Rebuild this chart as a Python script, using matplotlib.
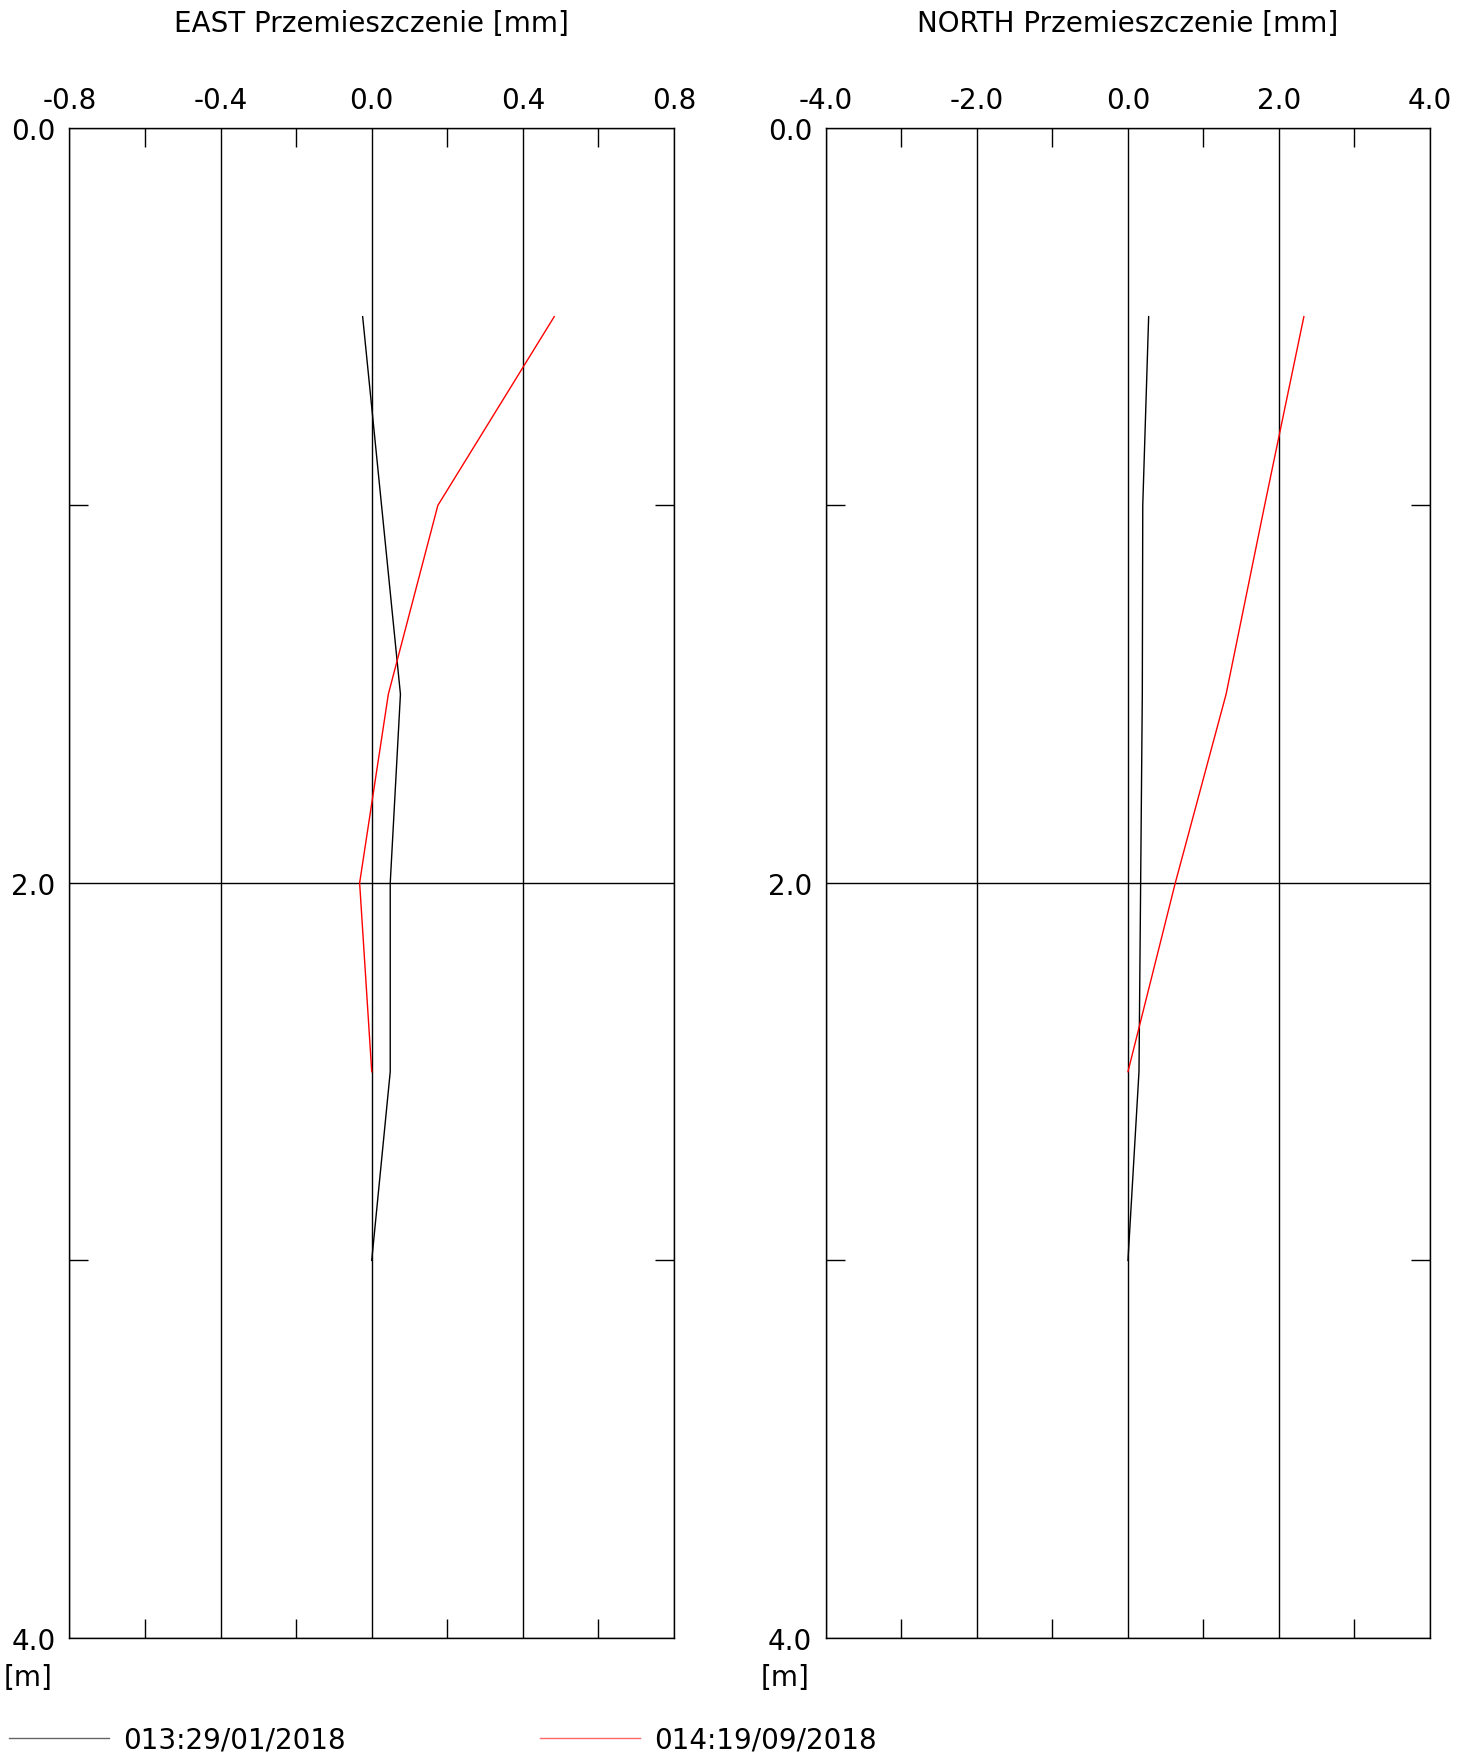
import numpy as np
import matplotlib
matplotlib.use('Agg')
import matplotlib.pyplot as plt
from matplotlib.ticker import MultipleLocator

# Dane: głębokość [m] i przemieszczenia [mm]
depth_013 = [0.5, 1.0, 1.5, 2.0, 2.5, 3.0]
depth_014 = [0.5, 1.0, 1.5, 2.0, 2.5]

east_013 = [-0.024, 0.026, 0.076, 0.049, 0.049, 0.0]
east_014 = [0.483, 0.175, 0.044, -0.032, 0.0]

north_013 = [0.274, 0.196, 0.190, 0.168, 0.146, 0.0]
north_014 = [2.33, 1.81, 1.30, 0.627, 0.0]

labels = ['013:29/01/2018', '014:19/09/2018']
colors = ['black', 'red']

east_ticks = [-0.8, -0.4, 0.0, 0.4, 0.8]
north_ticks = [-4.0, -2.0, 0.0, 2.0, 4.0]

plt.rcParams['font.family'] = 'DejaVu Sans'
fs = 20

fig = plt.figure(figsize=(14.71, 17.58), dpi=100)
ax1 = fig.add_axes([0.0472, 0.0677, 0.411, 0.859])
ax2 = fig.add_axes([0.5615, 0.0677, 0.4106, 0.859])


def setup(ax, ticks, minor, title):
    ax.set_xlim(ticks[0], ticks[-1])
    ax.set_ylim(4.0, 0.0)
    ax.xaxis.tick_top()
    ax.set_xticks(ticks)
    ax.set_xticklabels([f'{t:.1f}' for t in ticks], fontsize=fs)
    ax.xaxis.set_minor_locator(MultipleLocator(minor))
    ax.set_yticks([0.0, 2.0, 4.0])
    ax.set_yticklabels(['0.0', '2.0', '4.0'], fontsize=fs)
    ax.yaxis.set_minor_locator(MultipleLocator(1.0))
    ax.tick_params(which='major', length=0, pad=10)
    ax.tick_params(axis='y', which='major', pad=10)
    ax.tick_params(which='minor', direction='in', length=14, width=1,
                   top=True, bottom=True, left=True, right=True)
    ax.grid(True, which='major', color='black', linewidth=1)
    for s in ax.spines.values():
        s.set_linewidth(1)
    ax.set_title(title, fontsize=fs, pad=70)
    ax.text(-0.028, -0.0258, '[m]', transform=ax.transAxes, fontsize=fs,
            ha='right', va='center')


setup(ax1, east_ticks, 0.2, 'EAST Przemieszczenie [mm]')
setup(ax2, north_ticks, 1.0, 'NORTH Przemieszczenie [mm]')

l1, = ax1.plot(east_013, depth_013, color=colors[0], lw=1)
l2, = ax1.plot(east_014, depth_014, color=colors[1], lw=1)
ax2.plot(north_013, depth_013, color=colors[0], lw=1)
ax2.plot(north_014, depth_014, color=colors[1], lw=1)

leg = fig.legend([l1, l2], labels, loc='lower left',
                 bbox_to_anchor=(0.006, 0.002), borderpad=0, borderaxespad=0,
                 ncol=2, frameon=False, fontsize=fs, handlelength=3.6,
                 columnspacing=7.0, handletextpad=0.5)
for h in leg.legend_handles:
    h.set_alpha(0.6)

fig.savefig('out.png', dpi=100)
